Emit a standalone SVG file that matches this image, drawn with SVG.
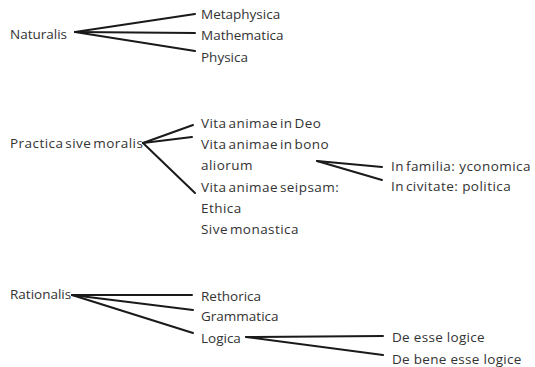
<svg xmlns="http://www.w3.org/2000/svg" width="535" height="367" viewBox="0 0 535 367">
<style>
text{font-family:"Open Sans","Liberation Sans",sans-serif;font-size:13.5px;fill:#333;dominant-baseline:central}
.t{letter-spacing:0.45px;word-spacing:-2px}
.d{letter-spacing:0.3px}
.c line{stroke:#1a1a1a;stroke-width:2;stroke-linecap:round}
</style>
<rect width="535" height="367" fill="#fff"/>
<g class="c" id="connectors">
<line x1="75" y1="32" x2="195" y2="14"/>
<line x1="75" y1="32" x2="195" y2="33"/>
<line x1="75" y1="32" x2="195" y2="51"/>
<line x1="143" y1="143" x2="193" y2="125"/>
<line x1="143" y1="143" x2="192" y2="137"/>
<line x1="143" y1="143" x2="195" y2="193"/>
<line x1="317" y1="161" x2="382" y2="167"/>
<line x1="317" y1="161" x2="382" y2="180"/>
<line x1="72" y1="295" x2="192" y2="295"/>
<line x1="72" y1="295" x2="193" y2="310"/>
<line x1="72" y1="295" x2="193" y2="333"/>
<line x1="246" y1="337" x2="383" y2="336"/>
<line x1="246" y1="337" x2="383" y2="355"/>
</g>
<g id="naturalis"><text x="10" y="34">Naturalis</text></g>
<g id="metaphysica"><text x="201" y="14">Metaphysica</text></g>
<g id="mathematica"><text x="201" y="35">Mathematica</text></g>
<g id="physica"><text x="201" y="57">Physica</text></g>
<g id="practica"><text class="t" x="10" y="143">Practica sive moralis</text></g>
<g id="vita-deo"><text class="t" x="201" y="123">Vita animae in Deo</text></g>
<g id="vita-bono"><text class="t" x="201" y="144">Vita animae in bono</text><text class="t" x="201" y="165">aliorum</text></g>
<g id="vita-seipsam"><text class="t" x="201" y="187">Vita animae seipsam:</text><text class="t" x="201" y="208">Ethica</text><text class="t" x="201" y="229">Sive monastica</text></g>
<g id="familia"><text class="t" x="391" y="166" xml:space="preserve">In familia:  yconomica</text></g>
<g id="civitate"><text class="t" x="391" y="186" xml:space="preserve">In civitate:  politica</text></g>
<g id="rationalis"><text x="10" y="294">Rationalis</text></g>
<g id="rethorica"><text x="201" y="296">Rethorica</text></g>
<g id="grammatica"><text x="201" y="316">Grammatica</text></g>
<g id="logica"><text x="201" y="338">Logica</text></g>
<g id="de-esse"><text class="d" x="392" y="337">De esse logice</text></g>
<g id="de-bene"><text class="d" x="392" y="359">De bene esse logice</text></g>
</svg>
